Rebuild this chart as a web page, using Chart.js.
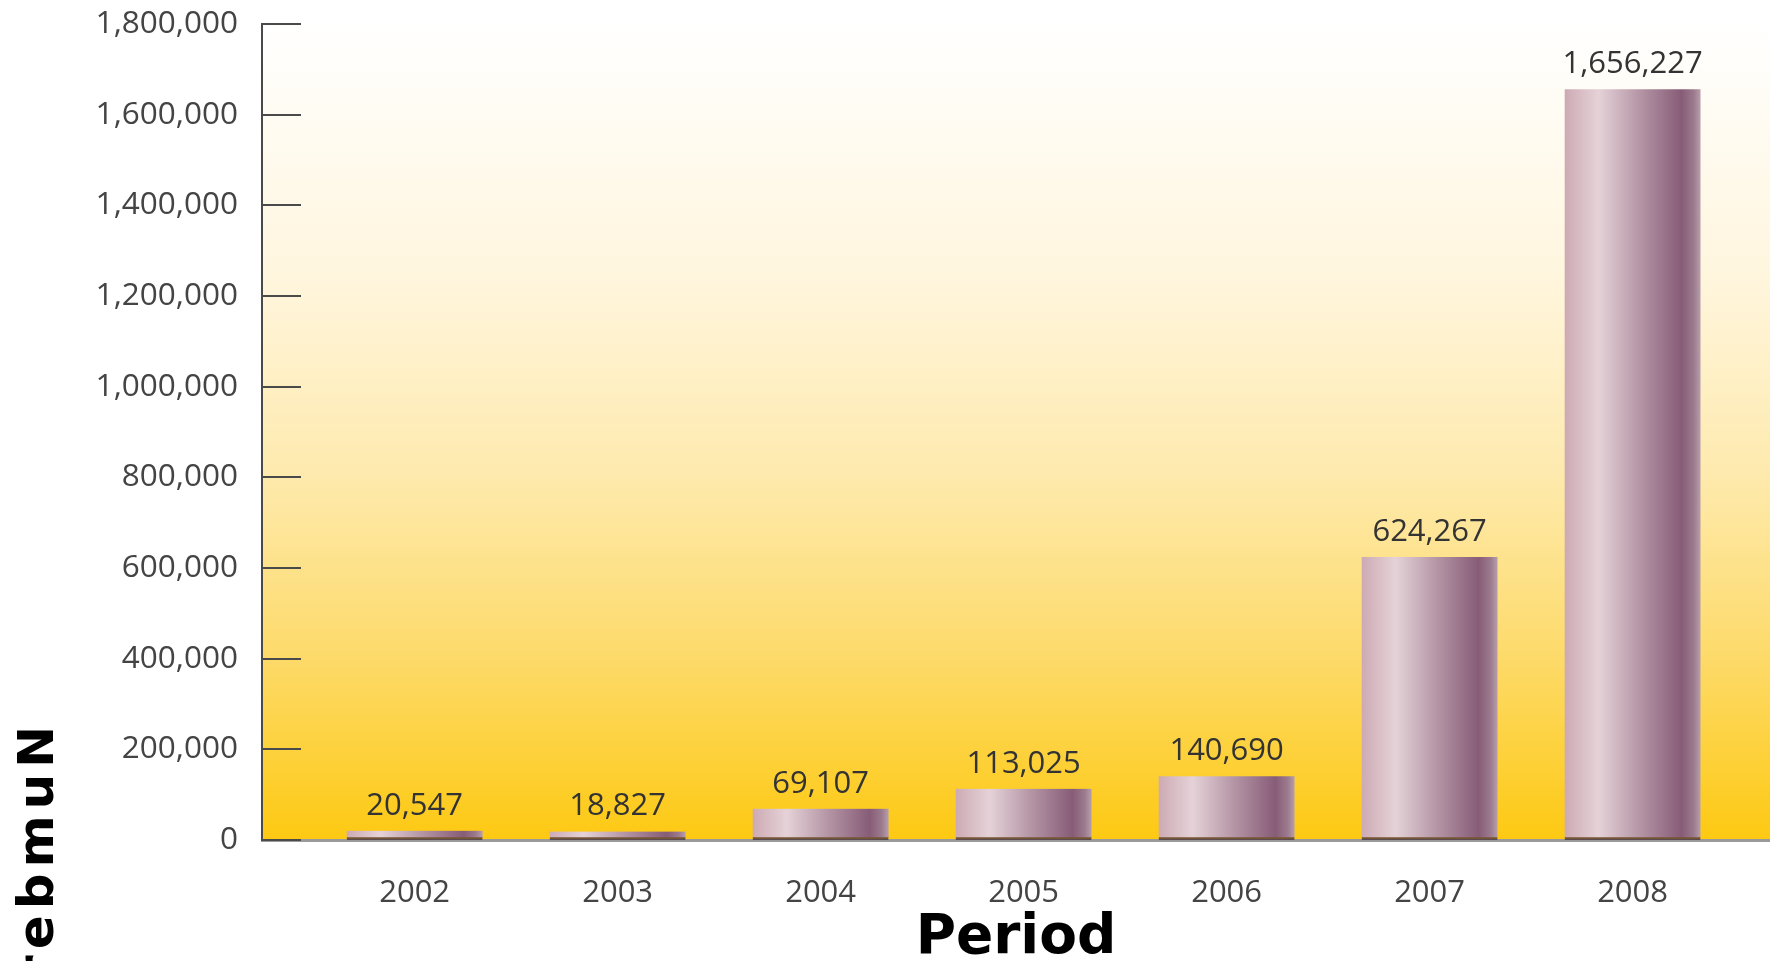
<!DOCTYPE html>
<html>
<head>
<meta charset="utf-8">
<title>Period chart</title>
<script src="https://cdn.jsdelivr.net/npm/chart.js@4.4.1/dist/chart.umd.min.js"></script>
<style>
  html, body { margin: 0; padding: 0; background: #fff; }
  #wrap { width: 1770px; height: 961px; position: relative; }
</style>
</head>
<body>
<div id="wrap"><canvas id="chart"></canvas></div>
<script>
// data
const years = [2002, 2003, 2004, 2005, 2006, 2007, 2008];
const counts = [20547, 18827, 69107, 113025, 140690, 624267, 1656227];
const yTicks = [0, 200000, 400000, 600000, 800000, 1000000, 1200000, 1400000, 1600000, 1800000];
const xTitle = 'Period';
const yTitle = 'rebmuN'; // only this part of the axis title is visible, drawn reversed in the original

const fmt = (v) => v.toLocaleString('en-US');
const BAR_W = 136;

// vertical white -> yellow fill behind the bars
const backdrop = {
    id: 'backdrop',
    beforeDraw(chart) {
        const { ctx, chartArea: a } = chart;
        const g = ctx.createLinearGradient(0, a.top, 0, a.bottom);
        g.addColorStop(0, '#ffffff');
        g.addColorStop(0.3, '#fff6df');
        g.addColorStop(0.55, '#feeaae');
        g.addColorStop(0.78, '#fdda68');
        g.addColorStop(1, '#fdc912');
        ctx.save();
        ctx.fillStyle = g;
        ctx.fillRect(a.left, a.top, a.right - a.left, a.bottom - a.top);
        ctx.restore();
    }
};

// short tick marks pointing into the plot area
const innerTicks = {
    id: 'innerTicks',
    afterDraw(chart) {
        const { ctx, chartArea: a } = chart;
        const y = chart.scales.y;
        ctx.save();
        ctx.strokeStyle = '#4a4a4a';
        ctx.lineWidth = 2;
        y.ticks.forEach(t => {
            const py = Math.round(y.getPixelForValue(t.value));
            ctx.beginPath();
            ctx.moveTo(a.left, py);
            ctx.lineTo(a.left + 39, py);
            ctx.stroke();
        });
        ctx.restore();
    }
};

// value labels above every bar
const valueLabels = {
    id: 'valueLabels',
    afterDatasetsDraw(chart) {
        const { ctx } = chart;
        const meta = chart.getDatasetMeta(0);
        ctx.save();
        ctx.font = '31px "Open Sans"';
        ctx.fillStyle = '#333333';
        ctx.textAlign = 'center';
        ctx.textBaseline = 'alphabetic';
        meta.data.forEach((bar, i) => {
            ctx.fillText(fmt(counts[i]), bar.x, bar.y - 16);
        });
        ctx.restore();
    }
};

// rotated y title, cut off by the bottom edge
const sideTitle = {
    id: 'sideTitle',
    afterDraw(chart) {
        const { ctx } = chart;
        ctx.save();
        ctx.translate(53, 720);
        ctx.rotate(-Math.PI / 2);
        ctx.font = 'bold 50px "DejaVu Sans"';
        ctx.letterSpacing = '6px';
        ctx.fillStyle = '#000000';
        ctx.textAlign = 'right';
        ctx.textBaseline = 'alphabetic';
        ctx.fillText(yTitle, 0, 0);
        ctx.restore();
    }
};

function barFill(c) {
    const chart = c.chart;
    if (!chart.chartArea || c.dataIndex === undefined) return '#b08a9c';
    const cx = chart.scales.x.getPixelForValue(years[c.dataIndex]);
    const g = chart.ctx.createLinearGradient(cx - BAR_W / 2, 0, cx + BAR_W / 2, 0);
    g.addColorStop(0, '#cdaab3');
    g.addColorStop(0.25, '#e5d2d8');
    g.addColorStop(0.55, '#b596a6');
    g.addColorStop(0.86, '#875c77');
    g.addColorStop(0.95, '#9c7b8e');
    g.addColorStop(1, '#b89fac');
    return g;
}

const ctx = document.getElementById('chart').getContext('2d');
new Chart(ctx, {
    type: 'bar',
    data: {
        datasets: [{
            label: 'Count',
            data: years.map((yr, i) => ({ x: yr, y: counts[i] })),
            backgroundColor: barFill,
            borderColor: 'rgba(70, 45, 60, 0.75)',
            borderWidth: { top: 0, left: 0, right: 0, bottom: 3 },
            borderSkipped: false,
            barThickness: BAR_W
        }]
    },
    options: {
        responsive: true,
        maintainAspectRatio: false,
        animation: false,
        devicePixelRatio: 1,
        layout: { padding: { top: 24, right: 0, bottom: 0, left: 0 } },
        plugins: {
            legend: { display: false },
            tooltip: { enabled: false }
        },
        scales: {
            x: {
                type: 'linear',
                offset: false,
                min: 2001.248,
                max: 2008.677,
                afterBuildTicks: (s) => { s.ticks = years.map(v => ({ value: v })); },
                afterFit: (s) => { s.height = 121; },
                grid: { display: false },
                border: { color: '#9a9a9a', width: 3 },
                ticks: {
                    callback: (v) => String(v),
                    font: { family: 'Open Sans', size: 31 },
                    color: '#444444',
                    padding: 27,
                    maxRotation: 0
                },
                title: {
                    display: true,
                    text: xTitle,
                    font: { family: 'DejaVu Sans', size: 55, weight: 'bold', lineHeight: 0.8 },
                    color: '#000000',
                    padding: 0
                }
            },
            y: {
                min: 0,
                max: 1800000,
                afterBuildTicks: (s) => { s.ticks = yTicks.map(v => ({ value: v })); },
                afterFit: (s) => { s.width = 262; s.paddingTop = 0; s.paddingBottom = 0; },
                grid: { display: false },
                border: { color: '#4a4a4a', width: 2 },
                ticks: {
                    callback: (v) => fmt(v),
                    font: { family: 'Open Sans', size: 31.5, lineHeight: 0.5 },
                    color: '#444444',
                    padding: 16
                }
            }
        }
    },
    plugins: [backdrop, innerTicks, valueLabels, sideTitle]
});
</script>
</body>
</html>
